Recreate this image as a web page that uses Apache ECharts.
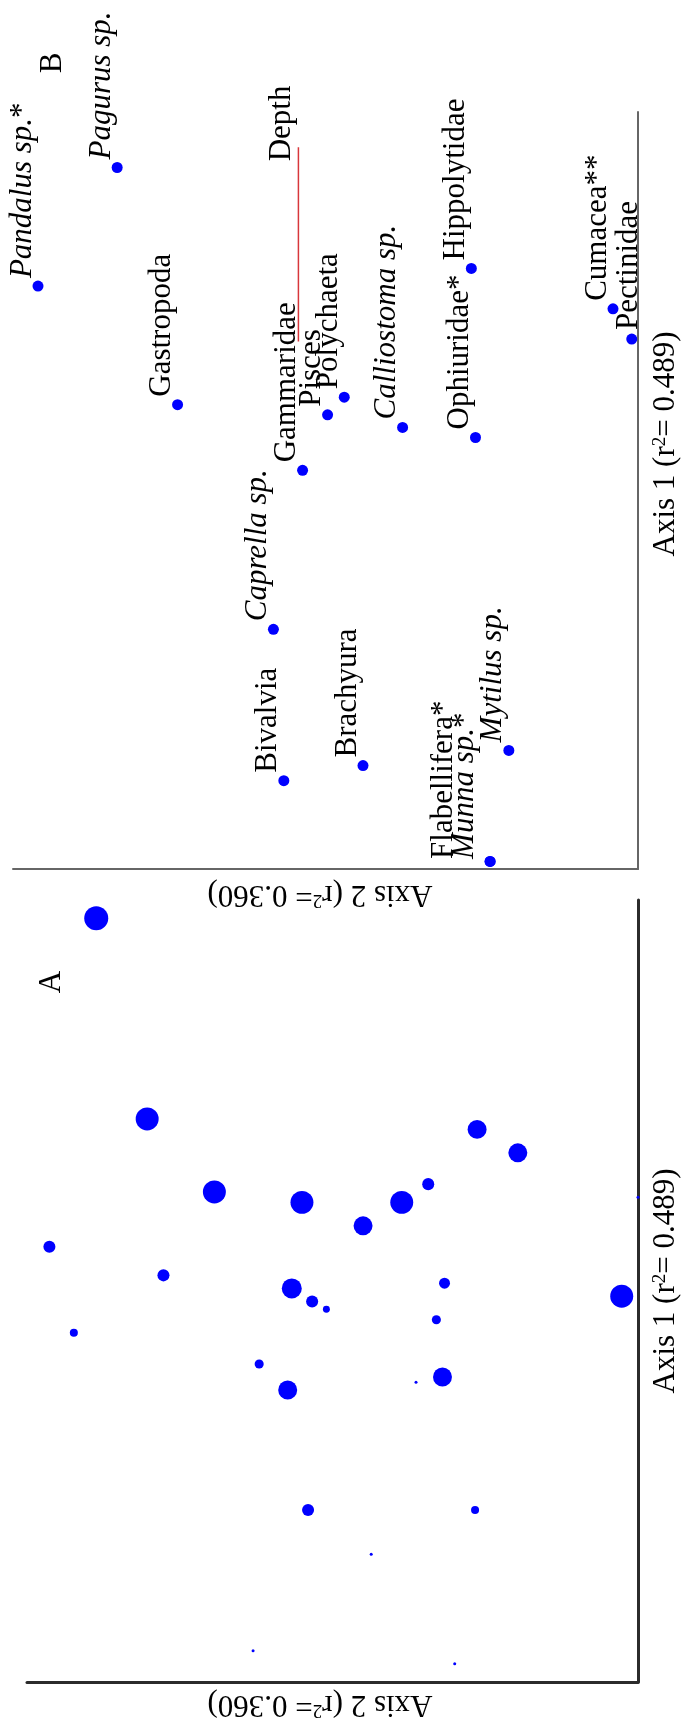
<!DOCTYPE html>
<html>
<head>
<meta charset="utf-8">
<title>NMS ordination</title>
<script src="https://cdn.jsdelivr.net/npm/echarts@6/dist/echarts.min.js"></script>
<style>
  html, body { margin: 0; padding: 0; background: #fff; }
  #chart { width: 682px; height: 1724px; }
</style>
</head>
<body>
<div id="chart"></div>
<script>
// panel B: taxa scores
var taxa = ['Pandalus sp.*', 'Pagurus sp.', 'Gastropoda', 'Gammaridae', 'Pisces', 'Polychaeta',
  'Calliostoma sp.', 'Hippolytidae', 'Ophiuridae*', 'Cumacea**', 'Pectinidae', 'Caprella sp.',
  'Bivalvia', 'Brachyura', 'Mytilus sp.', 'Flabellifera*', 'Munna sp.*'];
var taxaAxis1 = [0.81, 1.28, 0.34, 0.08, 0.30, 0.37, 0.25, 0.88, 0.21, 0.72, 0.60, -0.55,
  -1.15, -1.09, -1.03, -1.47, -1.47];
var taxaAxis2 = [1.38, 1.00, 0.71, 0.11, -0.01, -0.09, -0.37, -0.70, -0.72, -1.38, -1.47, 0.25,
  0.20, -0.18, -0.88, -0.79, -0.79];

// depth vector (joint plot)
var depthAxis1 = [0.59, 1.36];
var depthAxis2 = [0.13, 0.13];

// panel A: sample unit scores + relative bubble value
var sampleAxis1 = [1.43, 0.66, 0.38, 0.34, 0.17, 0.06, 0.01, 0.62, 0.53, 0.41, 0.34, 0.25, 0.03, -0.02,
  -0.04, -0.07, -0.16, -0.28, -0.38, -0.84, -1.38, -0.11, -0.33, -0.35, -0.84, -1.01, -1.43, 0.36];
var sampleAxis2 = [1.16, 0.91, 0.58, 0.15, 1.39, 0.83, 0.20, -0.71, -0.91, -0.47, -0.34, -0.15, -0.55, -1.42,
  0.10, 0.03, 1.27, 0.36, 0.22, 0.12, 0.39, -0.51, -0.54, -0.41, -0.70, -0.19, -0.60, -1.50];
var sampleWeight = [1.0, 0.95, 0.95, 0.95, 0.43, 0.43, 0.81, 0.76, 0.76, 0.43, 0.95, 0.76, 0.38, 0.95,
  0.43, 0.19, 0.24, 0.29, 0.76, 0.43, 0, 0.29, 0.76, 0, 0.24, 0, 0, 0];

var axis1Title = 'Axis 1 (r{sup|2}= 0.489)';
var axis2Title = 'Axis 2 (r{sup|2}= 0.360)';

var FONT = 'Liberation Serif';
var BLUE = '#0000ff';

// a few labels sit off the usual upper-left spot
var labelPos = {
  'Pectinidae': [18, -3.5],
  'Munna sp.*': [-4, 3],
  'Flabellifera*': [-25, 3]
};

var myChart = echarts.init(document.getElementById('chart'));

function axisPair(grid, lineColor, lineWidth) {
  var line = { show: true, onZero: false, lineStyle: { color: lineColor, width: lineWidth } };
  return {
    x: { gridIndex: grid, type: 'value', min: -1.5, max: 1.5, inverse: true, position: 'bottom',
      axisLine: line, axisTick: { show: false }, axisLabel: { show: false }, splitLine: { show: false } },
    y: { gridIndex: grid, type: 'value', min: -1.5, max: 1.5, position: 'right',
      axisLine: line, axisTick: { show: false }, axisLabel: { show: false }, splitLine: { show: false } }
  };
}
var axB = axisPair(0, '#666', 2);
var axA = axisPair(1, '#2b2b2b', 3);

var taxaData = taxa.map(function (name, i) {
  var item = { name: name, value: [taxaAxis2[i], taxaAxis1[i]] };
  if (labelPos[name]) item.label = { position: labelPos[name] };
  return item;
});

var sampleData = sampleAxis1.map(function (v, i) {
  return [sampleAxis2[i], v];
});

var depthData = depthAxis1.map(function (v, i) {
  return [depthAxis2[i], v];
});

function titleText(x, y, rot, text) {
  return {
    type: 'text', x: x, y: y, rotation: rot,
    style: {
      text: text, fontFamily: FONT, fontSize: 31, fill: '#000',
      align: 'center', verticalAlign: 'middle',
      rich: { sup: { fontFamily: FONT, fontSize: 19, verticalAlign: 'top', fill: '#000' } }
    }
  };
}

myChart.setOption({
  animation: false,
  backgroundColor: '#fff',
  grid: [
    { left: 13, right: 44, top: 112, bottom: 855 },
    { left: 27, right: 44, top: 900, bottom: 42 }
  ],
  xAxis: [axB.x, axA.x],
  yAxis: [axB.y, axA.y],
  graphic: [
    titleText(53, 63, Math.PI / 2, 'B'),
    titleText(52, 982, Math.PI / 2, 'A'),
    titleText(666, 444, Math.PI / 2, axis1Title),
    titleText(666, 1281, Math.PI / 2, axis1Title),
    titleText(320, 894, Math.PI, axis2Title),
    titleText(320, 1704, Math.PI, axis2Title)
  ],
  series: [
    {
      name: 'Depth',
      type: 'line',
      xAxisIndex: 0, yAxisIndex: 0,
      data: depthData,
      symbol: 'none',
      lineStyle: { color: '#d8373b', width: 1.5 },
      z: 1
    },
    {
      name: 'Depth label',
      type: 'scatter',
      xAxisIndex: 0, yAxisIndex: 0,
      data: [depthData[1]],
      symbolSize: 1,
      itemStyle: { color: 'rgba(0,0,0,0)', opacity: 1 },
      label: {
        show: true, formatter: 'Depth', position: [-1, 14.5], rotate: 90,
        align: 'left', verticalAlign: 'bottom',
        fontFamily: FONT, fontSize: 31, color: '#000'
      }
    },
    {
      name: 'Taxa',
      type: 'scatter',
      xAxisIndex: 0, yAxisIndex: 0,
      data: taxaData,
      symbolSize: 11,
      itemStyle: { color: BLUE, opacity: 1 },
      label: {
        show: true,
        position: 'top',
        distance: 2.5,
        rotate: 90,
        align: 'left',
        verticalAlign: 'bottom',
        fontFamily: FONT,
        fontSize: 31,
        color: '#000',
        formatter: function (p) {
          return p.name.replace(/^(.* sp\.)/, '{i|$1}');
        },
        rich: {
          i: { fontFamily: FONT, fontSize: 31, fontStyle: 'italic', color: '#000' }
        }
      },
      z: 3
    },
    {
      name: 'Samples',
      type: 'scatter',
      xAxisIndex: 1, yAxisIndex: 1,
      data: sampleData,
      symbolSize: function (val, params) {
        return 3 + 21 * sampleWeight[params.dataIndex];
      },
      itemStyle: { color: BLUE, opacity: 1 }
    }
  ]
});
</script>
</body>
</html>
